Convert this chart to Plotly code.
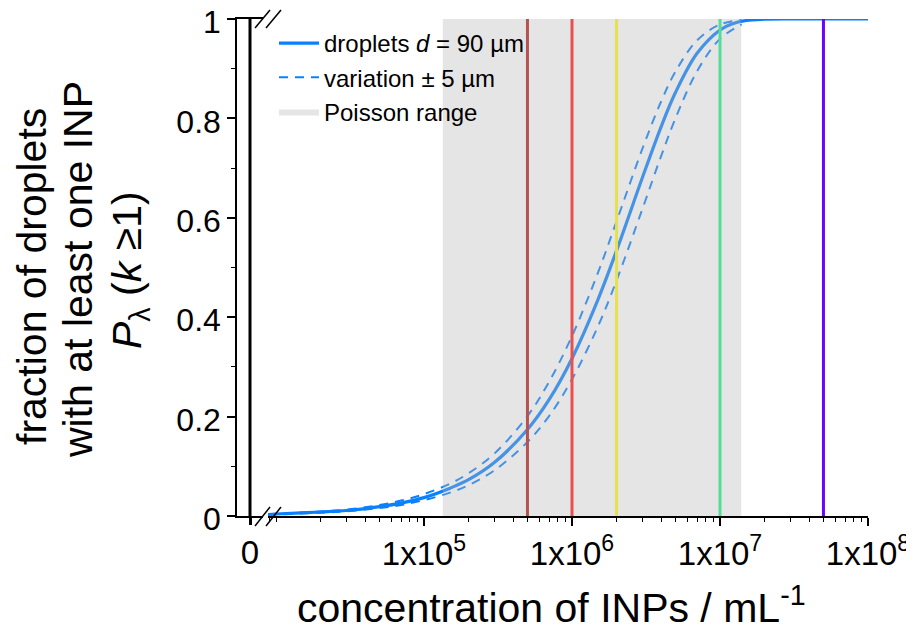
import plotly.graph_objects as go

# ---- data ----
conc = [8.8e3, 1e4, 2e4, 3e4, 5e4, 7e4, 1e5, 1.5e5, 2e5, 3e5, 5e5, 7e5, 1e6, 1.5e6,
        2e6, 3e6, 4e6, 5e6, 7e6, 1e7, 1.2e7, 1.5e7, 2e7, 3e7, 5e7, 1e8]
frac_90 = [0.003, 0.004, 0.008, 0.011, 0.019, 0.026, 0.037, 0.056, 0.073, 0.108, 0.174,
           0.234, 0.317, 0.436, 0.534, 0.682, 0.783, 0.852, 0.931, 0.978, 0.990, 0.997,
           0.9995, 1.0, 1.0, 1.0]

conc_var = [8.8e3, 1e4, 2e4, 3e4, 5e4, 7e4, 1e5, 1.5e5, 2e5, 3e5, 5e5, 7e5, 1e6, 1.5e6,
            2e6, 3e6, 4e6, 5e6, 7e6, 1e7, 1.4e7]
frac_95 = [0.004, 0.0045, 0.009, 0.013, 0.022, 0.031, 0.044, 0.065, 0.086, 0.126, 0.201,
           0.270, 0.362, 0.490, 0.593, 0.740, 0.834, 0.894, 0.957, 0.989, 0.998]
frac_85 = [0.0028, 0.0032, 0.0064, 0.0096, 0.016, 0.022, 0.032, 0.047, 0.062, 0.092, 0.149,
           0.201, 0.275, 0.382, 0.474, 0.619, 0.724, 0.800, 0.895, 0.960, 0.989]

poisson_range = [1.34e5, 1.39e7]
marker_conc = [5e5, 1e6, 2e6, 1e7, 5e7]
marker_colors = ["#B75250", "#E8504F", "#E6E04C", "#52DE98", "#7000FF"]
zero_conc = [0]

log_ticks = [1e5, 1e6, 1e7, 1e8]
log_ticktext = ["1x10<sup>5</sup>", "1x10<sup>6</sup>", "1x10<sup>7</sup>", "1x10<sup>8</sup>"]
y_ticks = [0, 0.2, 0.4, 0.6, 0.8, 1]
y_ticktext = ["0", "0.2", "0.4", "0.6", "0.8", "1"]

BLUE = "#0B80FF"
FONT = "Liberation Sans, Arial, sans-serif"

# ---- geometry: page coords of plot area; page body offset ----
O = 8
L, R, T, B = 237, 868, 19, 516
W, H = R - L, B - T
def px(x):
    return (x - L) / W
def py(y):
    return (B - y) / H

fig = go.Figure()

# dashed variation curves
fig.add_trace(go.Scatter(x=conc_var, y=frac_95, xaxis="x2", yaxis="y", mode="lines",
                         line=dict(color=BLUE, width=2, dash="9px,7px", shape="spline"),
                         name="variation ± 5 µm", legendgroup="var", legendrank=2))
fig.add_trace(go.Scatter(x=conc_var, y=frac_85, xaxis="x2", yaxis="y", mode="lines",
                         line=dict(color=BLUE, width=2, dash="9px,7px", shape="spline"),
                         name="variation ± 5 µm", legendgroup="var", showlegend=False))
# main curve
fig.add_trace(go.Scatter(x=conc, y=frac_90, xaxis="x2", yaxis="y", mode="lines",
                         line=dict(color=BLUE, width=3.2, shape="spline"),
                         name="droplets <i>d</i> = 90 µm", legendrank=1))

# Poisson range (semi-transparent overlay)
pr = poisson_range
fig.add_trace(go.Scatter(x=[pr[0], pr[1], pr[1], pr[0], pr[0]], y=[0, 0, 1, 1, 0],
                         xaxis="x2", yaxis="y", mode="lines", fill="toself",
                         fillcolor="rgba(180,180,180,0.35)", line=dict(width=0),
                         hoverinfo="skip", name="Poisson range", legendrank=3))

# vertical concentration lines
for c, col in zip(marker_conc, marker_colors):
    fig.add_trace(go.Scatter(x=[c, c], y=[0, 1], xaxis="x2", yaxis="y", mode="lines",
                             line=dict(color=col, width=3), showlegend=False,
                             hoverinfo="skip"))
# zero line
fig.add_trace(go.Scatter(x=[zero_conc[0], zero_conc[0]], y=[0, 1], xaxis="x", yaxis="y",
                         mode="lines", line=dict(color="black", width=3),
                         showlegend=False, hoverinfo="skip"))

lin_end = px(263)
log_start = px(268)
log_range = [8 - (R - 268) / 148.0, 8]

xtickfont = dict(family=FONT, size=33, color="black")
ytickfont = dict(family=FONT, size=32, color="black")
common = dict(automargin=False, showgrid=False, zeroline=False, ticklabeloverflow="allow")

fig.update_layout(
    width=914, height=635,
    margin=dict(l=L - O, r=914 - (R - O), t=T - O, b=635 - (B - O), autoexpand=False),
    paper_bgcolor="white", plot_bgcolor="white",
    font=dict(family=FONT, color="black"),
    showlegend=True,
    legend=dict(x=px(274), y=py(21), xanchor="left", yanchor="top",
                bgcolor="rgba(0,0,0,0)", font=dict(family=FONT, size=24, color="black"),
                tracegroupgap=0, itemwidth=40),
    xaxis=dict(domain=[0, lin_end], type="linear", range=[-1, 1], anchor="y",
               showline=True, linecolor="black", linewidth=1.5, mirror=True,
               tickvals=zero_conc, ticktext=["0"], ticks="outside", ticklen=7,
               tickwidth=3, tickcolor="black", tickfont=xtickfont, **common),
    xaxis2=dict(domain=[log_start, 1], type="log", range=log_range, anchor="y",
                showline=True, linecolor="black", linewidth=1.5,
                tickvals=log_ticks, ticktext=log_ticktext, ticks="outside", ticklen=8,
                tickwidth=1.5, tickcolor="black", tickfont=xtickfont,
                minor=dict(ticks="outside", ticklen=4, tickwidth=1, tickcolor="black",
                           dtick="D1", showgrid=False), **common),
    xaxis3=dict(overlaying="x2", side="top", type="log", range=log_range, anchor="y",
                showline=True, linecolor="black", linewidth=1.5,
                tickvals=log_ticks, ticks="inside", ticklen=7, tickwidth=1.5,
                tickcolor="black", showticklabels=False,
                minor=dict(ticks="inside", ticklen=4, tickwidth=1, tickcolor="black",
                           dtick="D1", showgrid=False), **common),
    yaxis=dict(domain=[0, 1], range=[0, 1], anchor="x", side="left",
               showline=True, linecolor="black", linewidth=1.5,
               tickvals=y_ticks, ticktext=y_ticktext,
               ticks="outside", ticklen=8, tickwidth=1.5, tickcolor="black",
               tickfont=ytickfont, ticklabelshift=3,
               minor=dict(ticks="outside", ticklen=4, tickwidth=1, tickcolor="black",
                          dtick=0.1, showgrid=False), **common),
    yaxis2=dict(overlaying="y", range=[0, 1], anchor="x2", side="right",
                showline=True, linecolor="black", linewidth=1.5,
                tickvals=y_ticks, ticks="inside", ticklen=8,
                tickwidth=1.5, tickcolor="black", showticklabels=False,
                minor=dict(ticks="inside", ticklen=4, tickwidth=1, tickcolor="black",
                           dtick=0.1, showgrid=False), **common),
)

# axis titles as annotations
fig.add_annotation(text="concentration of INPs / mL<sup>-1</sup>", xref="paper", yref="paper",
                   x=px(551), y=py(605), xanchor="center", yanchor="middle", showarrow=False,
                   font=dict(family=FONT, size=41, color="black"))
ytitle_lines = ["fraction of droplets", "with at least one INP",
                "<i>P</i><sub>λ</sub> (<i>k</i> ≥1)"]
ytitle_x = [32, 78, 130]
ytitle_y = [277, 270, 270]
for txt, xx, yy in zip(ytitle_lines, ytitle_x, ytitle_y):
    fig.add_annotation(text=txt, xref="paper", yref="paper", x=px(xx), y=py(yy),
                       xanchor="center", yanchor="middle", textangle=-90, showarrow=False,
                       font=dict(family=FONT, size=41, color="black"))

# axis-break marks
breaks = [((255, 526), (270, 507)), ((266, 526), (281, 507)),
          ((255, 28), (270, 10)), ((266, 28), (281, 10))]
for (x0, y0), (x1, y1) in breaks:
    fig.add_shape(type="line", xref="paper", yref="paper", x0=px(x0), y0=py(y0),
                  x1=px(x1), y1=py(y1), line=dict(color="black", width=1.5))

fig.write_html("out.html")
